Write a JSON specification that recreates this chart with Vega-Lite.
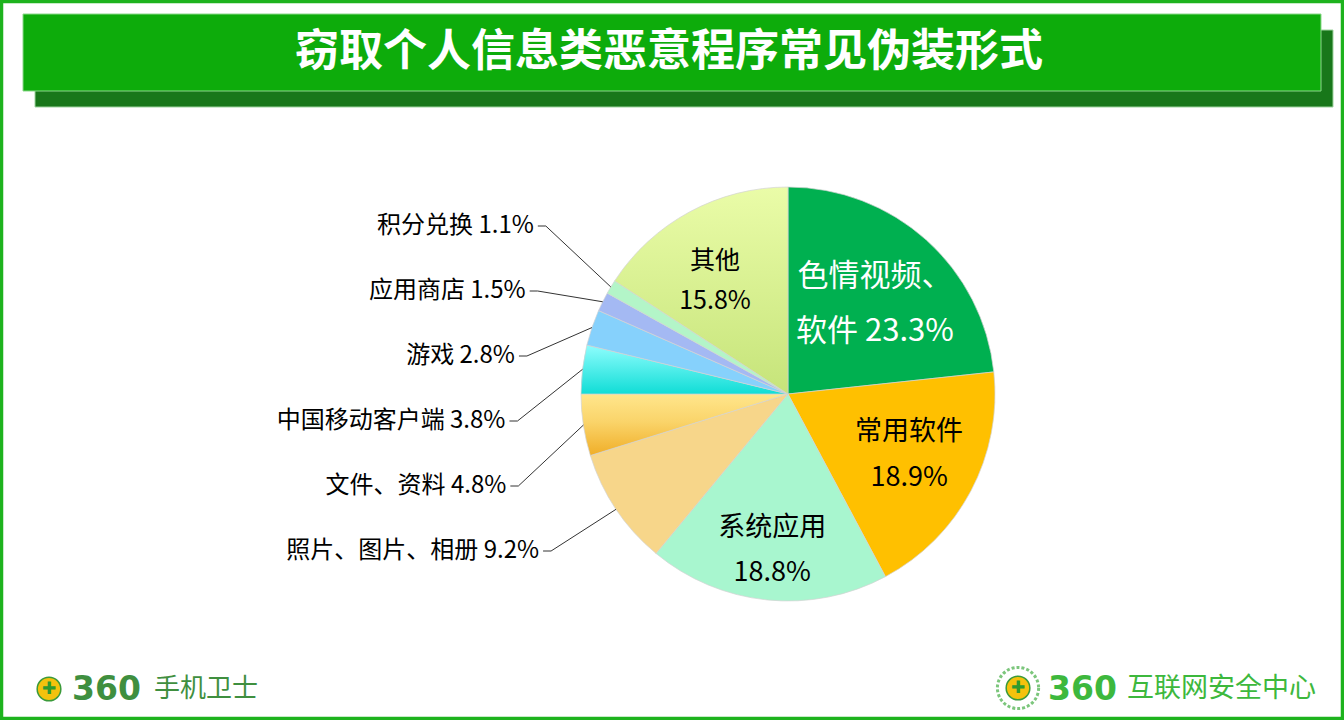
{
  "$schema": "https://vega.github.io/schema/vega-lite/v6.json",
  "width": 1112,
  "height": 652,
  "padding": {"left": 232, "top": 68, "right": 0, "bottom": 0},
  "autosize": {"type": "none"},
  "background": "#ffffff",
  "config": {"view": {"stroke": null}, "text": {"font": "Noto Sans CJK SC"}},
  "data": {
    "values": [
      {"seq": 1, "name": "色情视频、软件", "value": 23.3, "label": "色情视频、\n软件 23.3%"},
      {"seq": 2, "name": "常用软件", "value": 18.9, "label": "常用软件\n18.9%"},
      {"seq": 3, "name": "系统应用", "value": 18.8, "label": "系统应用\n18.8%"},
      {"seq": 4, "name": "照片、图片、相册", "value": 9.2, "label": "照片、图片、相册 9.2%"},
      {"seq": 5, "name": "文件、资料", "value": 4.8, "label": "文件、资料 4.8%"},
      {"seq": 6, "name": "中国移动客户端", "value": 3.8, "label": "中国移动客户端 3.8%"},
      {"seq": 7, "name": "游戏", "value": 2.8, "label": "游戏 2.8%"},
      {"seq": 8, "name": "应用商店", "value": 1.5, "label": "应用商店 1.5%"},
      {"seq": 9, "name": "积分兑换", "value": 1.1, "label": "积分兑换 1.1%"},
      {"seq": 10, "name": "其他", "value": 15.8, "label": "其他\n15.8%"}
    ]
  },
  "layer": [
    {
      "data": {"values": [{}]},
      "mark": {"type": "rect", "fill": "transparent", "stroke": "#1DB31D", "strokeWidth": 3.5},
      "encoding": {
        "x": {"datum": 1.5, "type": "quantitative", "scale": {"domain": [232, 1344], "nice": false, "zero": false}, "axis": null},
        "x2": {"datum": 1342.5},
        "y": {"datum": 1.5, "type": "quantitative", "scale": {"domain": [68, 720], "nice": false, "zero": false, "reverse": true}, "axis": null},
        "y2": {"datum": 718.5}
      }
    },
    {
      "data": {"values": [{}]},
      "mark": {"type": "rect", "fill": "#18771A", "stroke": "#9ED49E", "strokeWidth": 1},
      "encoding": {
        "x": {"datum": 35, "type": "quantitative", "scale": {"domain": [232, 1344], "nice": false, "zero": false}, "axis": null},
        "x2": {"datum": 1333},
        "y": {"datum": 30, "type": "quantitative", "scale": {"domain": [68, 720], "nice": false, "zero": false, "reverse": true}, "axis": null},
        "y2": {"datum": 107}
      }
    },
    {
      "data": {"values": [{}]},
      "mark": {"type": "rect", "fill": "#0DAC0B", "stroke": "#8CD88C", "strokeWidth": 1},
      "encoding": {
        "x": {"datum": 23, "type": "quantitative", "scale": {"domain": [232, 1344], "nice": false, "zero": false}, "axis": null},
        "x2": {"datum": 1321},
        "y": {"datum": 14, "type": "quantitative", "scale": {"domain": [68, 720], "nice": false, "zero": false, "reverse": true}, "axis": null},
        "y2": {"datum": 91}
      }
    },
    {
      "data": {"values": [{"t": "窃取个人信息类恶意程序常见伪装形式"}]},
      "mark": {"type": "text", "fontSize": 44, "fontWeight": "bold", "fill": "#ffffff", "align": "center", "baseline": "middle"},
      "encoding": {
        "x": {"datum": 669, "type": "quantitative", "scale": {"domain": [232, 1344], "nice": false, "zero": false}, "axis": null},
        "y": {"datum": 53, "type": "quantitative", "scale": {"domain": [68, 720], "nice": false, "zero": false, "reverse": true}, "axis": null},
        "text": {"field": "t", "type": "nominal"}
      }
    },
    {
      "mark": {"type": "arc", "outerRadius": 207, "stroke": "#d2d2d2", "strokeWidth": 0.7},
      "encoding": {
        "theta": {"field": "value", "type": "quantitative", "stack": true},
        "order": {"field": "seq", "type": "quantitative"},
        "color": {
          "condition": [
            {"test": "datum.name === '文件、资料'", "value": {"gradient": "linear", "x1": 0, "y1": 0, "x2": 0, "y2": 1, "stops": [{"offset": 0, "color": "#FFE68C"}, {"offset": 0.45, "color": "#FAD46A"}, {"offset": 1, "color": "#F0AE28"}]}},
            {"test": "datum.name === '中国移动客户端'", "value": {"gradient": "linear", "x1": 0, "y1": 0, "x2": 0, "y2": 1, "stops": [{"offset": 0, "color": "#8FFDFD"}, {"offset": 1, "color": "#10DDD6"}]}},
            {"test": "datum.name === '其他'", "value": {"gradient": "linear", "x1": 0, "y1": 0, "x2": 0, "y2": 1, "stops": [{"offset": 0, "color": "#EAFCA8"}, {"offset": 1, "color": "#C6E47A"}]}}
          ],
          "field": "name",
          "type": "nominal",
          "legend": null,
          "scale": {
            "domain": ["色情视频、软件", "常用软件", "系统应用", "照片、图片、相册", "文件、资料", "中国移动客户端", "游戏", "应用商店", "积分兑换", "其他"],
            "range": ["#00B050", "#FFC000", "#A8F6CF", "#F7D68A", "#F8CB58", "#3FE9E3", "#86D1FC", "#A4B9F3", "#B3F5C8", "#DCF19B"]
          }
        }
      }
    },
    {
      "mark": {"type": "text", "radius": 130, "dy": -20, "fontSize": 31, "fill": "#ffffff", "align": "center", "baseline": "middle", "lineBreak": "\n", "lineHeight": 55},
      "encoding": {
        "theta": {"field": "value", "type": "quantitative", "stack": true},
        "order": {"field": "seq", "type": "quantitative"},
        "text": {"condition": {"test": "datum.name === '色情视频、软件'", "field": "label"}, "value": ""}
      }
    },
    {
      "mark": {"type": "text", "radius": 137, "dy": -26, "fontSize": 27, "fill": "#000000", "align": "center", "baseline": "middle", "lineBreak": "\n", "lineHeight": 46},
      "encoding": {
        "theta": {"field": "value", "type": "quantitative", "stack": true},
        "order": {"field": "seq", "type": "quantitative"},
        "text": {"condition": {"test": "datum.name === '常用软件'", "field": "label"}, "value": ""}
      }
    },
    {
      "mark": {"type": "text", "radius": 157, "dy": -22, "fontSize": 27, "fill": "#000000", "align": "center", "baseline": "middle", "lineBreak": "\n", "lineHeight": 45},
      "encoding": {
        "theta": {"field": "value", "type": "quantitative", "stack": true},
        "order": {"field": "seq", "type": "quantitative"},
        "text": {"condition": {"test": "datum.name === '系统应用'", "field": "label"}, "value": ""}
      }
    },
    {
      "mark": {"type": "text", "radius": 128, "dx": -12, "dy": -20, "fontSize": 25, "fill": "#000000", "align": "center", "baseline": "middle", "lineBreak": "\n", "lineHeight": 40},
      "encoding": {
        "theta": {"field": "value", "type": "quantitative", "stack": true},
        "order": {"field": "seq", "type": "quantitative"},
        "text": {"condition": {"test": "datum.name === '其他'", "field": "label"}, "value": ""}
      }
    },
    {
      "transform": [
        {"window": [{"op": "sum", "field": "value", "as": "cum"}], "sort": [{"field": "seq", "order": "ascending"}], "frame": [null, 0]},
        {"calculate": "(datum.cum - datum.value / 2) / 100 * 2 * PI", "as": "mid"},
        {"calculate": "788 + 207 * sin(datum.mid)", "as": "ex"},
        {"calculate": "394 - 207 * cos(datum.mid)", "as": "ey"},
        {"calculate": "datum.ex - 65", "as": "bx"},
        {"calculate": "551 - 65 * (datum.seq - 4)", "as": "by"},
        {"calculate": "datum.bx - 8", "as": "hx"},
        {"calculate": "datum.bx - 12", "as": "tx"},
        {"filter": "datum.value < 10"}
      ],
      "layer": [
        {
          "mark": {"type": "rule", "stroke": "#333333", "strokeWidth": 1},
          "encoding": {
            "x": {"field": "ex", "type": "quantitative", "scale": {"domain": [232, 1344], "nice": false, "zero": false}, "axis": null},
            "y": {"field": "ey", "type": "quantitative", "scale": {"domain": [68, 720], "nice": false, "zero": false, "reverse": true}, "axis": null},
            "x2": {"field": "bx"},
            "y2": {"field": "by"}
          }
        },
        {
          "mark": {"type": "rule", "stroke": "#333333", "strokeWidth": 1},
          "encoding": {
            "x": {"field": "bx", "type": "quantitative", "scale": {"domain": [232, 1344], "nice": false, "zero": false}, "axis": null},
            "y": {"field": "by", "type": "quantitative", "scale": {"domain": [68, 720], "nice": false, "zero": false, "reverse": true}, "axis": null},
            "x2": {"field": "hx"},
            "y2": {"field": "by"}
          }
        },
        {
          "mark": {"type": "text", "fontSize": 24, "fill": "#000000", "align": "right", "baseline": "middle"},
          "encoding": {
            "x": {"field": "tx", "type": "quantitative", "scale": {"domain": [232, 1344], "nice": false, "zero": false}, "axis": null},
            "y": {"field": "by", "type": "quantitative", "scale": {"domain": [68, 720], "nice": false, "zero": false, "reverse": true}, "axis": null},
            "text": {"field": "label", "type": "nominal"}
          }
        }
      ]
    },
    {
      "data": {"values": [{}]},
      "mark": {"type": "point", "shape": "circle", "filled": true, "size": 560, "fill": "#F4C20D", "stroke": "#3A9A3A", "strokeWidth": 1.5, "opacity": 1},
      "encoding": {
        "x": {"datum": 49, "type": "quantitative", "scale": {"domain": [232, 1344], "nice": false, "zero": false}, "axis": null},
        "y": {"datum": 689, "type": "quantitative", "scale": {"domain": [68, 720], "nice": false, "zero": false, "reverse": true}, "axis": null}
      }
    },
    {
      "data": {"values": [{}]},
      "mark": {"type": "point", "shape": "circle", "filled": false, "size": 1700, "stroke": "#7CC67C", "strokeWidth": 3, "strokeDash": [3, 2], "opacity": 1},
      "encoding": {
        "x": {"datum": 1018, "type": "quantitative", "scale": {"domain": [232, 1344], "nice": false, "zero": false}, "axis": null},
        "y": {"datum": 688, "type": "quantitative", "scale": {"domain": [68, 720], "nice": false, "zero": false, "reverse": true}, "axis": null}
      }
    },
    {
      "data": {"values": [{}]},
      "mark": {"type": "point", "shape": "circle", "filled": true, "size": 560, "fill": "#F4C20D", "stroke": "#3A9A3A", "strokeWidth": 1.5, "opacity": 1},
      "encoding": {
        "x": {"datum": 1018, "type": "quantitative", "scale": {"domain": [232, 1344], "nice": false, "zero": false}, "axis": null},
        "y": {"datum": 688, "type": "quantitative", "scale": {"domain": [68, 720], "nice": false, "zero": false, "reverse": true}, "axis": null}
      }
    },
    {
      "data": {"values": [{"t": "✚"}]},
      "mark": {"type": "text", "font": "DejaVu Sans", "fontSize": 17, "fill": "#2F9A2F", "align": "center", "baseline": "middle"},
      "encoding": {
        "x": {"datum": 49, "type": "quantitative", "scale": {"domain": [232, 1344], "nice": false, "zero": false}, "axis": null},
        "y": {"datum": 689, "type": "quantitative", "scale": {"domain": [68, 720], "nice": false, "zero": false, "reverse": true}, "axis": null},
        "text": {"field": "t", "type": "nominal"}
      }
    },
    {
      "data": {"values": [{"t": "✚"}]},
      "mark": {"type": "text", "font": "DejaVu Sans", "fontSize": 17, "fill": "#2F9A2F", "align": "center", "baseline": "middle"},
      "encoding": {
        "x": {"datum": 1018, "type": "quantitative", "scale": {"domain": [232, 1344], "nice": false, "zero": false}, "axis": null},
        "y": {"datum": 688, "type": "quantitative", "scale": {"domain": [68, 720], "nice": false, "zero": false, "reverse": true}, "axis": null},
        "text": {"field": "t", "type": "nominal"}
      }
    },
    {
      "data": {"values": [{"t": "360"}]},
      "mark": {"type": "text", "font": "DejaVu Sans", "fontWeight": "bold", "fontSize": 33, "fill": "#3F8F3F", "align": "left", "baseline": "middle"},
      "encoding": {
        "x": {"datum": 72, "type": "quantitative", "scale": {"domain": [232, 1344], "nice": false, "zero": false}, "axis": null},
        "y": {"datum": 690, "type": "quantitative", "scale": {"domain": [68, 720], "nice": false, "zero": false, "reverse": true}, "axis": null},
        "text": {"field": "t", "type": "nominal"}
      }
    },
    {
      "data": {"values": [{"t": "手机卫士"}]},
      "mark": {"type": "text", "fontSize": 26, "fill": "#3F8F3F", "align": "left", "baseline": "middle"},
      "encoding": {
        "x": {"datum": 154, "type": "quantitative", "scale": {"domain": [232, 1344], "nice": false, "zero": false}, "axis": null},
        "y": {"datum": 689, "type": "quantitative", "scale": {"domain": [68, 720], "nice": false, "zero": false, "reverse": true}, "axis": null},
        "text": {"field": "t", "type": "nominal"}
      }
    },
    {
      "data": {"values": [{"t": "360"}]},
      "mark": {"type": "text", "font": "DejaVu Sans", "fontWeight": "bold", "fontSize": 33, "fill": "#3DB83D", "align": "left", "baseline": "middle"},
      "encoding": {
        "x": {"datum": 1048, "type": "quantitative", "scale": {"domain": [232, 1344], "nice": false, "zero": false}, "axis": null},
        "y": {"datum": 690, "type": "quantitative", "scale": {"domain": [68, 720], "nice": false, "zero": false, "reverse": true}, "axis": null},
        "text": {"field": "t", "type": "nominal"}
      }
    },
    {
      "data": {"values": [{"t": "互联网安全中心"}]},
      "mark": {"type": "text", "fontSize": 27, "fill": "#3DB83D", "align": "left", "baseline": "middle"},
      "encoding": {
        "x": {"datum": 1127, "type": "quantitative", "scale": {"domain": [232, 1344], "nice": false, "zero": false}, "axis": null},
        "y": {"datum": 689, "type": "quantitative", "scale": {"domain": [68, 720], "nice": false, "zero": false, "reverse": true}, "axis": null},
        "text": {"field": "t", "type": "nominal"}
      }
    }
  ]
}
